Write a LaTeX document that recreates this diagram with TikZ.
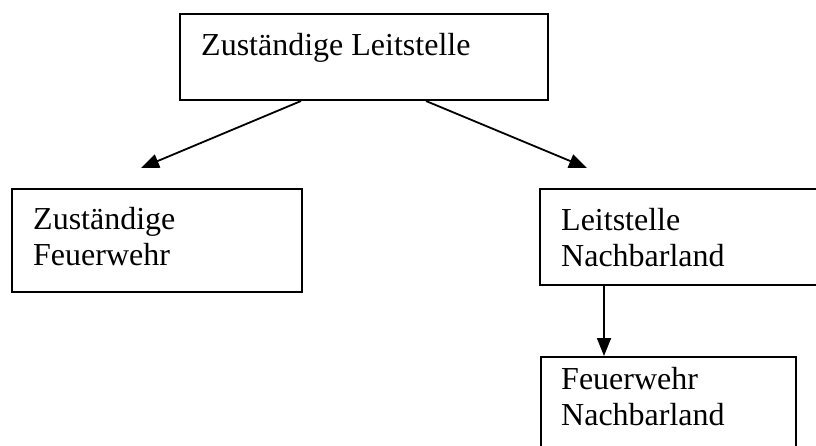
\documentclass[tikz,border=0pt]{standalone}
\usepackage{fontspec}
\setmainfont{Liberation Serif}
\usetikzlibrary{arrows.meta}
\begin{document}
\begin{tikzpicture}[x=1pt,y=-1pt,
  box/.style={draw,line width=2pt,rectangle,inner sep=0pt},
  lbl/.style={anchor=base west,inner sep=0pt,font=\fontsize{32}{36}\selectfont,align=left},
  conn/.style={line width=1.8pt,-{Triangle[length=18pt,width=14pt]}}]
\useasboundingbox (0,0) rectangle (816,445);
\clip (0,0) rectangle (816,445);
\node[box,minimum width=368pt,minimum height=86pt] (top) at (364,57) {};
\node[box,minimum width=290pt,minimum height=103pt] (left) at (157,240.5) {};
\node[box,minimum width=290pt,minimum height=96pt] (right) at (685,237) {};
\node[box,minimum width=255pt,minimum height=103pt] (bottom) at (668.5,408.5) {};
\node[lbl] (ttop) at (201,55) {Zuständige Leitstelle};
\node[lbl] (tleft) at (33,265) {Zuständige\\Feuerwehr};
\node[lbl] (tright) at (561,266) {Leitstelle\\Nachbarland};
\node[lbl] (tbottom) at (561,425) {Feuerwehr\\Nachbarland};
\coordinate (tipL) at (141,168);
\coordinate (tipR) at (587,168);
\draw[conn] ([xshift=122pt]top.south west) -- (tipL);
\draw[conn] ([xshift=247pt]top.south west) -- (tipR);
\draw[conn] ([xshift=65pt]right.south west) -- ([xshift=64pt]bottom.north west);
\end{tikzpicture}
\end{document}
